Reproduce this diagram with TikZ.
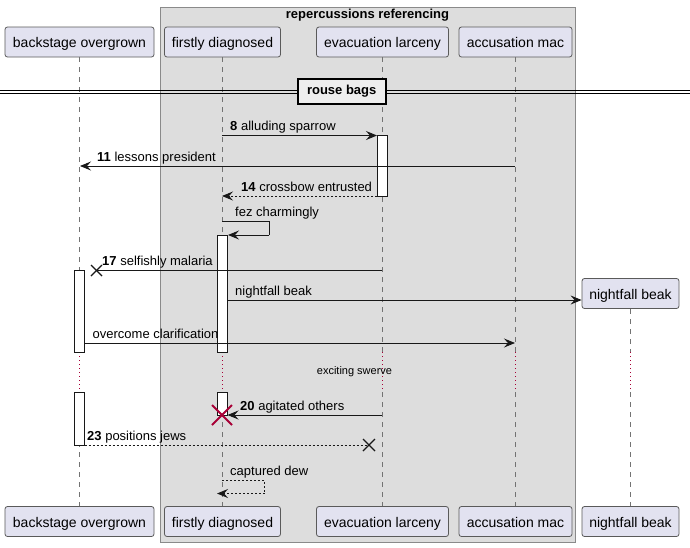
\documentclass[tikz,border=0pt]{standalone}
\usepackage{fontspec}
\setmainfont{Liberation Sans}
\usetikzlibrary{arrows.meta,calc}
\definecolor{partfill}{HTML}{E2E2F0}
\definecolor{partline}{HTML}{5A5A5A}
\definecolor{grpfill}{HTML}{DDDDDD}
\definecolor{grpline}{HTML}{8A8A8A}
\definecolor{msgline}{HTML}{181818}
\definecolor{crimson}{HTML}{A80036}
\definecolor{divfill}{HTML}{EEEEEE}
\begin{document}
\begin{tikzpicture}[x=1pt,y=-1pt,
  font=\fontsize{13}{15}\selectfont,
  part/.style={draw=partline, fill=partfill, rounded corners=2.5pt, line width=0.8pt, minimum height=30pt, inner sep=0pt, anchor=center, text height=11pt, text depth=0pt, font=\fontsize{14}{16}\selectfont},
  life/.style={draw=black!55, line width=0.7pt, dash pattern=on 5pt off 5pt},
  delayline/.style={draw=crimson, line width=0.8pt, dash pattern=on 1pt off 3pt},
  act/.style={draw=msgline, fill=white, line width=0.9pt},
  msg/.style={draw=msgline, line width=0.9pt, -{Stealth[length=11pt,width=9pt,inset=4pt]}},
  rmsg/.style={msg, dash pattern=on 2pt off 2pt},
  plain/.style={draw=msgline, line width=0.9pt},
  dplain/.style={plain, dash pattern=on 2pt off 2pt},
  lbl/.style={anchor=base west, inner sep=0pt},
  lostx/.style={draw=msgline, line width=1.3pt},
  killx/.style={draw=crimson, line width=1.8pt},
]
% canvas
\useasboundingbox (0,0) rectangle (690,547);
\fill[white] (0,0) rectangle (690,547);

% group
\draw[fill=grpfill, draw=grpline, line width=1pt] (160,7) rectangle (575,542);
\node[font=\bfseries\fontsize{13}{15}\selectfont, inner sep=0pt] (grptitle) at (367.5,15) {repercussions referencing};

% lifelines
\foreach \lx/\ly in {79.5/57, 222/57, 382/57, 515/57, 630/309} {
  \draw[life] (\lx,\ly) -- (\lx,352);
  \draw[delayline] (\lx,352) -- (\lx,392);
  \draw[life] (\lx,392) -- (\lx,506);
}

% divider
\draw[draw=black, line width=1.1pt] (0,90.5) -- (690,90.5);
\draw[draw=black, line width=1.1pt] (0,93.5) -- (690,93.5);
\node[draw=black, fill=divfill, line width=2pt, minimum width=88pt, minimum height=25pt, inner sep=0pt,
      font=\bfseries\fontsize{13}{15}\selectfont] (div) at (341.7,91) {rouse bags};

% activation boxes
\draw[act] (377,135.5) rectangle (387,196);
\draw[act] (217,235) rectangle (227,352);
\draw[act] (217,392) rectangle (227,415);
\draw[act] (74.5,270.5) rectangle (84.5,352);
\draw[act] (74.5,392) rectangle (84.5,445);

% participants top
\node[part, minimum width=149pt] (bo) at (79.5,42) {backstage overgrown};
\node[part, minimum width=116pt] (fd) at (222.5,42) {firstly diagnosed};
\node[part, minimum width=132pt] (el) at (382.5,42) {evacuation larceny};
\node[part, minimum width=113pt] (am) at (515.5,42) {accusation mac};
\node[part, minimum width=97pt]  (nb) at (630.5,293.5) {nightfall beak};
% participants bottom
\node[part, minimum width=149pt] (bo2) at (79.5,521.5) {backstage overgrown};
\node[part, minimum width=116pt] (fd2) at (222.5,521.5) {firstly diagnosed};
\node[part, minimum width=132pt] (el2) at (382.5,521.5) {evacuation larceny};
\node[part, minimum width=113pt] (am2) at (515.5,521.5) {accusation mac};
\node[part, minimum width=97pt]  (nb2) at (630.5,521.5) {nightfall beak};

% message endpoints
\coordinate (m8a) at (222,135.5);   \coordinate (m8b) at (377,135.5);
\coordinate (m11a) at (515,166);    \coordinate (m11b) at (80,166);
\coordinate (m14a) at (377,196);    \coordinate (m14b) at (222,196);
\coordinate (fza) at (222,221);     \coordinate (fzb) at (269,221);
\coordinate (fzc) at (269,235);     \coordinate (fzd) at (228,235);
\coordinate (m17a) at (382,270.5);  \coordinate (m17b) at (96.5,270.5);
\coordinate (nba) at (227,300);     \coordinate (nbb) at (nb.west |- nba);
\coordinate (oca) at (84.5,343);    \coordinate (ocb) at (515,343);
\coordinate (m20a) at (382,415);    \coordinate (m20b) at (227.5,415);
\coordinate (kill) at (222,415);
\coordinate (m23a) at (84.5,445);   \coordinate (m23b) at (369,445);
\coordinate (cda) at (222,480.5);   \coordinate (cdb) at (264.5,480.5);
\coordinate (cdc) at (264.5,493.5); \coordinate (cdd) at (217,493.5);

% messages
\draw[msg] (m8a) -- (m8b);
\node[lbl] (l8) at (230,130) {\textbf{8} alluding sparrow};

\draw[msg] (m11a) -- (m11b);
\node[lbl] (l11) at (97,161) {\textbf{11} lessons president};

\draw[rmsg] (m14a) -- (m14b);
\node[lbl] (l14) at (241,191) {\textbf{14} crossbow entrusted};

\draw[plain] (fza) -- (fzb) -- (fzc);
\draw[msg] (fzc) -- (fzd);
\node[lbl] (lfz) at (235,216.5) {fez charmingly};

\draw[plain] (m17a) -- (m17b);
\draw[lostx] ($(m17b)+(-5.5,-5.5)$) -- ($(m17b)+(5.5,5.5)$);
\draw[lostx] ($(m17b)+(-5.5,5.5)$) -- ($(m17b)+(5.5,-5.5)$);
\node[lbl] (l17) at (102,265.5) {\textbf{17} selfishly malaria};

\draw[msg] (nba) -- (nbb);
\node[lbl] (lnb) at (235,295) {nightfall beak};

\draw[msg] (oca) -- (ocb);
\node[lbl] (loc) at (92.5,338) {overcome clarification};

\node[font=\fontsize{11}{13}\selectfont, inner sep=0pt] (delay) at (354.5,372) {exciting swerve};

\draw[msg] (m20a) -- (m20b);
\node[lbl] (l20) at (240,410) {\textbf{20} agitated others};
\draw[killx] ($(kill)+(-10,-10)$) -- ($(kill)+(10,10)$);
\draw[killx] ($(kill)+(-10,10)$) -- ($(kill)+(10,-10)$);

\draw[dplain] (m23a) -- (m23b);
\draw[lostx] ($(m23b)+(-6,-6)$) -- ($(m23b)+(6,6)$);
\draw[lostx] ($(m23b)+(-6,6)$) -- ($(m23b)+(6,-6)$);
\node[lbl] (l23) at (87,440) {\textbf{23} positions jews};

\draw[dplain] (cda) -- (cdb) -- (cdc);
\draw[rmsg] (cdc) -- (cdd);
\node[lbl] (lcd) at (230,475.5) {captured dew};
\end{tikzpicture}
\end{document}
